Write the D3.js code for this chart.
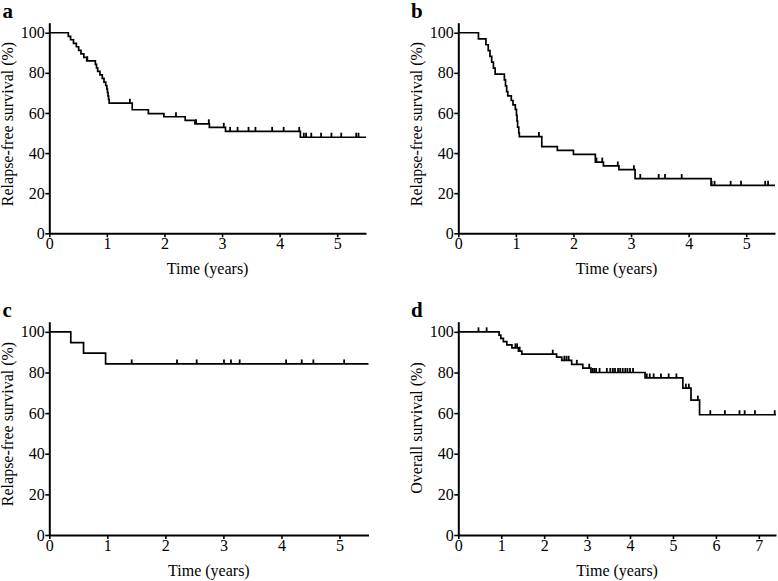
<!DOCTYPE html>
<html>
<head>
<meta charset="utf-8">
<script src="https://cdn.jsdelivr.net/npm/d3@7"></script>
<style>
    body { margin: 0; background: white; }
    svg text { font-family: 'Liberation Serif', 'Times New Roman', serif; fill: black; }
</style>
</head>
<body>
<div id="bigdiv"></div>
<script>
// Kaplan-Meier curves, 4 panels

// each step is [time (years), survival (%) after the event]
let stepsA = [[0.33, 98.2], [0.37, 96.5], [0.42, 94.7], [0.47, 93.0], [0.51, 91.2], [0.55, 89.5],
    [0.60, 87.7], [0.65, 86.0], [0.80, 84.2], [0.82, 82.5], [0.84, 80.7], [0.88, 79.0],
    [0.92, 77.2], [0.95, 75.4], [0.98, 73.7], [1.00, 71.9], [1.01, 70.2], [1.02, 68.4],
    [1.03, 66.7], [1.04, 64.9], [1.44, 61.6], [1.72, 59.7], [1.99, 58.1], [2.36, 56.3],
    [2.53, 54.6], [2.78, 52.8], [3.06, 50.8], [4.36, 47.9]]
let censorA = [0.66, 1.40, 2.20, 2.55, 2.77, 3.03, 3.14, 3.27, 3.46, 3.58, 3.87, 4.07, 4.34,
    4.42, 4.46, 4.55, 4.72, 4.90, 5.07, 5.33, 5.37]

let stepsB = [[0.35, 96.9], [0.48, 94.0], [0.52, 91.1], [0.55, 88.2], [0.58, 85.3], [0.61, 82.4],
    [0.64, 79.4], [0.80, 76.5], [0.82, 73.5], [0.84, 70.6], [0.86, 68.5], [0.92, 66.2],
    [0.95, 64.0], [0.99, 61.8], [1.01, 58.8], [1.02, 55.9], [1.03, 52.9], [1.05, 50.0],
    [1.06, 48.2], [1.45, 43.2], [1.72, 41.3], [2.00, 39.4], [2.38, 35.5], [2.52, 33.6],
    [2.79, 31.7], [3.07, 27.3], [4.39, 23.9]]
let censorB = [1.40, 2.40, 2.50, 2.77, 3.05, 3.16, 3.48, 3.59, 3.88, 4.40, 4.45, 4.73, 4.91, 5.33, 5.38]

let stepsC = [[0.37, 94.7], [0.59, 89.5], [0.97, 84.2]]
let censorC = [1.42, 2.20, 2.54, 3.01, 3.13, 3.28, 4.08, 4.35, 4.55, 5.08]

let stepsD = [[0.95, 98.4], [0.99, 96.8], [1.05, 95.2], [1.13, 93.6], [1.25, 92.1], [1.40, 90.5],
    [1.48, 89.0], [2.29, 87.6], [2.41, 86.0], [2.64, 84.0], [2.90, 82.1], [3.09, 80.0],
    [4.35, 77.3], [5.23, 72.3], [5.42, 66.4], [5.62, 59.2]]
let censorD = [0.47, 0.66, 1.33, 1.37, 1.43, 2.20, 2.47, 2.52, 2.57, 2.76, 3.05, 3.13, 3.17,
    3.21, 3.29, 3.46, 3.54, 3.60, 3.65, 3.72, 3.77, 3.83, 3.89, 3.94, 4.00, 4.07, 4.39, 4.46,
    4.55, 4.72, 4.90, 5.08, 5.30, 5.37, 5.58, 5.87, 6.21, 6.55, 6.67, 6.91, 7.37]

let yTicks = [0, 20, 40, 60, 80, 100]
let xTicks5 = [0, 1, 2, 3, 4, 5]
let xTicks7 = [0, 1, 2, 3, 4, 5, 6, 7]

let panels = [
    { label: 'a', steps: stepsA, censor: censorA, xmax: 5.5, xticks: xTicks5, ytitle: 'Relapse-free survival (%)',
      left: 49.3, right: 366, top: 22.7, bottom: 233.3, labx: 2.5, titleX: 13, titleY: 124 },
    { label: 'b', steps: stepsB, censor: censorB, xmax: 5.5, xticks: xTicks5, ytitle: 'Relapse-free survival (%)',
      left: 458.3, right: 775, top: 22.7, bottom: 233.3, labx: 411, titleX: 422, titleY: 124 },
    { label: 'c', steps: stepsC, censor: censorC, xmax: 5.5, xticks: xTicks5, ytitle: 'Relapse-free survival (%)',
      left: 49.3, right: 368.5, top: 321.7, bottom: 535, labx: 2.5, titleX: 13, titleY: 424 },
    { label: 'd', steps: stepsD, censor: censorD, xmax: 7.4, xticks: xTicks7, ytitle: 'Overall survival (%)',
      left: 458.3, right: 776, top: 321.7, bottom: 535, labx: 411, titleX: 422, titleY: 428 }
]

let svg = d3.select('div#bigdiv').append('svg')
    .attr('width', 778).attr('height', 581)
    .style('display', 'block').style('background-color', 'white')

// survival value of the curve at time t
function survAt(steps, t) {
    let s = 100
    steps.forEach(p => { if (p[0] <= t) s = p[1] })
    return s
}

function drawPanel(p) {
    let g = svg.append('g').attr('class', 'panel')
    let x = d3.scaleLinear().domain([0, p.xmax]).range([p.left, p.right])
    let y = d3.scaleLinear().domain([0, 105]).range([p.bottom, p.top])

    // curve
    let pts = [[0, 100]].concat(p.steps)
    pts.push([p.xmax, p.steps[p.steps.length - 1][1]])
    let line = d3.line().x(d => x(d[0])).y(d => y(d[1])).curve(d3.curveStepAfter)
    g.append('path').datum(pts)
        .attr('d', line)
        .attr('fill', 'none').attr('stroke', 'black').attr('stroke-width', 1.7)

    // censor ticks
    g.selectAll('line.cens').data(p.censor).enter().append('line')
        .attr('class', 'cens')
        .attr('x1', d => x(d)).attr('x2', d => x(d))
        .attr('y1', d => y(survAt(p.steps, d)))
        .attr('y2', d => y(survAt(p.steps, d)) - 4.5)
        .attr('stroke', 'black').attr('stroke-width', 1.8)

    // axes
    let xa = g.append('g').attr('transform', 'translate(0,' + p.bottom + ')')
        .call(d3.axisBottom(x).tickValues(p.xticks).tickFormat(d3.format('d')).tickSize(4).tickSizeOuter(0).tickPadding(0.5))
    let ya = g.append('g').attr('transform', 'translate(' + p.left + ',0)')
        .call(d3.axisLeft(y).tickValues(yTicks).tickSize(4).tickSizeOuter(0).tickPadding(0.5))
    ;[xa, ya].forEach(a => {
        a.attr('font-family', "'Liberation Serif', serif")
        a.select('.domain').attr('stroke-width', 2)
        a.selectAll('.tick line').attr('stroke-width', 1.6)
        a.selectAll('.tick text').attr('font-size', 16)
    })

    // titles
    g.append('text').attr('x', (p.left + p.right) / 2).attr('y', p.bottom + 40.5)
        .attr('text-anchor', 'middle').attr('font-size', 16).text('Time (years)')
    g.append('text')
        .attr('transform', 'translate(' + p.titleX + ',' + p.titleY + ') rotate(-90)')
        .attr('text-anchor', 'middle').attr('font-size', 16).text(p.ytitle)
    g.append('text').attr('x', p.labx).attr('y', p.top - 4.5)
        .attr('font-size', 21).attr('font-weight', 'bold').text(p.label)
}

panels.forEach(drawPanel)
</script>
</body>
</html>
